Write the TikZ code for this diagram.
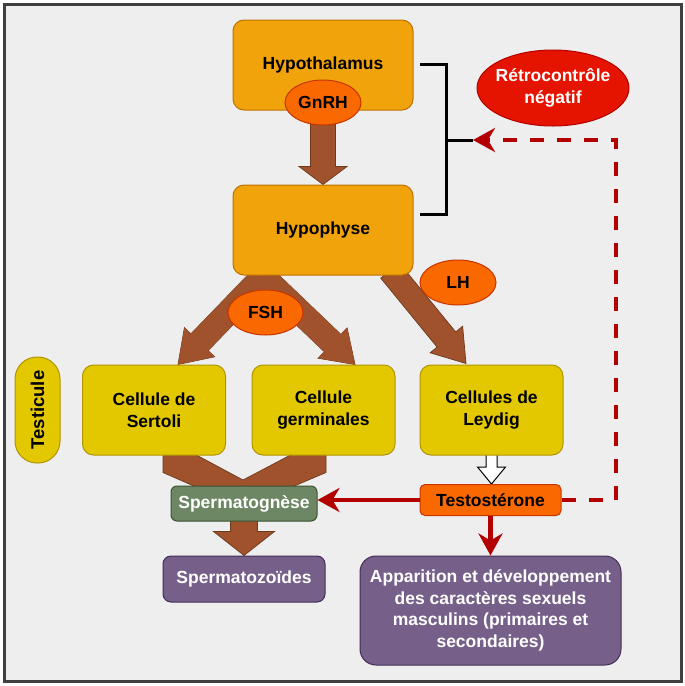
\documentclass[tikz,border=0pt]{standalone}
\usepackage{fontspec}
\setmainfont{Liberation Sans}
\usetikzlibrary{arrows.meta,calc,shapes.geometric}
\pgfdeclarelayer{bg}
\pgfdeclarelayer{arr}
\pgfsetlayers{bg,arr,main}
\definecolor{bgc}{HTML}{EEEEEE}
\definecolor{framec}{HTML}{404040}
\definecolor{orfill}{HTML}{F0A30A}
\definecolor{orline}{HTML}{BD7000}
\definecolor{hofill}{HTML}{FA6800}
\definecolor{holine}{HTML}{C73500}
\definecolor{rdfill}{HTML}{E51400}
\definecolor{rdline}{HTML}{B20000}
\definecolor{yefill}{HTML}{E3C800}
\definecolor{yeline}{HTML}{B09500}
\definecolor{sifill}{HTML}{A0522D}
\definecolor{siline}{HTML}{6D3A1E}
\definecolor{grfill}{HTML}{6D8764}
\definecolor{grline}{HTML}{3A5431}
\definecolor{pufill}{HTML}{76608A}
\definecolor{puline}{HTML}{432D57}
\definecolor{redarr}{HTML}{B20000}
% block arrow: [style]{A}{B}{half shaft}{half head}{head length}
\newcommand{\blockarr}[6][sienna]{%
  \coordinate (bhd) at ($(#3)!#6!(#2)$);
  \path[#1] ($(#2)!#4!90:(#3)$) -- ($(bhd)!#4!90:(#3)$) -- ($(bhd)!#5!90:(#3)$) -- (#3)
    -- ($(bhd)!#5!-90:(#3)$) -- ($(bhd)!#4!-90:(#3)$) -- ($(#2)!#4!-90:(#3)$) -- cycle;}
\tikzset{
  txt/.style={align=center, inner sep=0pt, font=\bfseries\fontsize{17.5}{21.5}\selectfont},
  box/.style={txt, rectangle, rounded corners=11pt, line width=1pt},
  obox/.style={box, fill=orfill, draw=orline, minimum width=180pt, minimum height=90pt},
  ybox/.style={box, fill=yefill, draw=yeline, minimum width=143pt, minimum height=90pt},
  gbox/.style={box, rounded corners=6pt, fill=grfill, draw=grline, text=white, minimum width=146pt, minimum height=35pt},
  tbox/.style={box, rounded corners=5pt, fill=hofill, draw=holine, minimum width=141pt, minimum height=31pt},
  pbox/.style={box, rounded corners=8pt, fill=pufill, draw=puline, text=white, minimum width=162pt, minimum height=46pt},
  hell/.style={txt, ellipse, fill=hofill, draw=holine, line width=1pt, minimum width=76pt, minimum height=45pt},
  rell/.style={txt, ellipse, inner xsep=-20pt, inner ysep=-10pt, fill=rdfill, draw=rdline, line width=1pt, text=white, minimum width=152pt, minimum height=76pt, font=\bfseries\fontsize{17.5}{22.5}\selectfont},
  testi/.style={box, rotate=90, rounded corners=22pt, fill=yefill, draw=yeline, minimum width=106pt, minimum height=45pt, font=\bfseries\fontsize{18.5}{22}\selectfont},
  sienna/.style={fill=sifill, draw=siline, line width=0.7pt},
  siennafill/.style={fill=sifill},
  whitearr/.style={fill=white, draw=black, line width=1pt},
  redarrow/.style={draw=redarr, line width=4.5pt, -{Stealth[length=22pt,width=24pt,inset=7pt]}},
  dasharrow/.style={draw=redarr, line width=4pt, dash pattern=on 14pt off 13pt, -{Stealth[length=22pt,width=24pt,inset=7pt]}},
  bracket/.style={draw=black, line width=3pt}
}
\begin{document}
\begin{tikzpicture}[x=1pt,y=-1pt]
\useasboundingbox (0,0) rectangle (685,686);
\begin{pgfonlayer}{bg}
  \fill[white] (0,0) rectangle (685,686);
  \filldraw[fill=bgc, draw=framec, line width=3pt] (4,4.5) rectangle (681.5,681.5);
\end{pgfonlayer}

% nodes
\node[obox] (hypothal) at (323,65) {Hypothalamus};
\node[hell] (gnrh) at (323,102.5) {GnRH};
\node[obox] (hypoph) at (323,230) {Hypophyse};
\node[hell] (lh) at (458,282.5) {LH};
\node[hell, minimum width=75pt] (fsh) at (265.5,312.5) {FSH};
\node[rell] (retro) at (553,88) {Rétrocontrôle\\négatif};
\node[testi] (testic) at (37.5,410) {Testicule};
\node[ybox] (sertoli) at (154,410) {Cellule de\\Sertoli};
\node[ybox] (germ) at (323.5,410) {Cellule\\germinales};
\node[ybox] (leydig) at (491.5,410) {Cellules de\\Leydig};
\node[gbox] (spermatog) at (244,503.5) {Spermatognèse};
\node[tbox] (testo) at (490.5,500) {Testostérone};
\node[pbox] (spermatoz) at (244,579) {Spermatozoïdes};
\node[pbox, minimum width=261pt, minimum height=109pt, rounded corners=16pt] (appar) at (490.5,610.5) {Apparition et développement\\des caractères sexuels\\masculins (primaires et\\secondaires)};

% coordinates for connectors
\coordinate (fshsrc) at ($(hypoph.south)+(-60,1)$);
\coordinate (sertip) at ($(sertoli.north)+(24,0)$);
\coordinate (gertip) at ($(germ.north)+(31.5,0)$);
\coordinate (lhsrc) at ($(hypoph.south)+(67,-5)$);
\coordinate (leytip) at ($(leydig.north)+(-25.5,-1)$);
\coordinate (wsrc) at ($(leydig.south)+(0,-8)$);
\coordinate (wtip) at (wsrc |- testo.north);
\coordinate (fbcorner) at (615.5,140);
\coordinate (brtip) at (473,140);
\coordinate (brmid) at (446,140);
\coordinate (brtop) at (420,64);
\coordinate (brtopr) at (446,64);
\coordinate (brbotr) at (446,214);
\coordinate (brbot) at (420,214);

\begin{pgfonlayer}{arr}
  % GnRH -> Hypophyse
  \blockarr{gnrh.center}{hypoph.north}{12.5pt}{24pt}{18pt}
  % FSH branches
  \blockarr{fshsrc}{sertip}{12pt}{21pt}{31pt}
  \blockarr{fshsrc}{gertip}{12pt}{21pt}{31pt}
  \blockarr[siennafill]{fshsrc}{sertip}{12pt}{21pt}{31pt}
  \blockarr[siennafill]{fshsrc}{gertip}{12pt}{21pt}{31pt}
  % LH
  \blockarr{lhsrc}{leytip}{12pt}{21pt}{31pt}
  % Sertoli + germinales -> Spermatogenese
  \filldraw[sienna] ($(sertoli.south)+(9,-5)$) -- ($(sertoli.south)+(34,-5)$) -- ($(spermatog.north)+(-1,-5.5)$)
     -- ($(germ.south)+(-24.5,-5)$) -- ($(germ.south)+(2.5,-5)$) -- ($(germ.south)+(2.5,17)$)
     -- ($(spermatog.north)+(14,16)$) -- ($(spermatog.north)+(-15,16)$) -- ($(sertoli.south)+(9,17)$) -- cycle;
  % Spermatogenese -> Spermatozoides
  \blockarr{spermatog.center}{spermatoz.north}{13.5pt}{30.5pt}{24pt}
  % Leydig -> Testosterone (white)
  \blockarr[whitearr]{wsrc}{wtip}{5.5pt}{14pt}{17pt}
\end{pgfonlayer}

% red connectors
\draw[redarrow] (testo.west) -- (testo.west -| spermatog.east);
\draw[redarrow] (testo.south) -- (appar.north);
\draw[dasharrow] (testo.east) -| (fbcorner) -- (brtip);
% bracket
\draw[bracket] (brtop) -- (brtopr) -- (brbotr) -- (brbot);
\draw[bracket] (brmid) -- (brtip);
\end{tikzpicture}
\end{document}
